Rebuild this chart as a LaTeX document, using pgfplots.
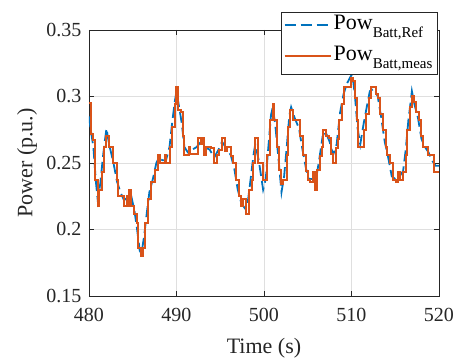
\documentclass[border=0pt]{standalone}
\usepackage{pgfplots}
\pgfplotsset{compat=1.18}
\usepackage{fontspec}
\setmainfont{Liberation Serif}
\definecolor{mblue}{RGB}{0,114,189}
\definecolor{morange}{RGB}{217,83,25}
\definecolor{axgray}{RGB}{38,38,38}
\newcommand{\sub}[1]{\raisebox{-7.5pt}{\fontsize{15}{15}\selectfont #1}}
\pgfplotstableread{
t v
480.0 0.295
480.2 0.272
480.5 0.267
480.7 0.237
481.0 0.218
481.2 0.230
481.5 0.243
481.7 0.262
482.0 0.270
482.3 0.262
482.8 0.250
483.2 0.237
483.3 0.225
483.7 0.225
484.0 0.218
484.3 0.225
484.4 0.218
484.6 0.230
484.8 0.218
485.2 0.212
485.5 0.205
485.6 0.186
486.0 0.180
486.2 0.186
486.4 0.205
486.8 0.223
487.1 0.236
487.5 0.237
487.6 0.245
487.9 0.256
488.1 0.250
488.5 0.250
488.7 0.256
488.8 0.250
489.1 0.250
489.3 0.262
489.5 0.277
489.8 0.294
490.0 0.307
490.2 0.290
490.5 0.288
490.7 0.270
490.9 0.256
491.2 0.256
491.4 0.262
491.6 0.257
492.3 0.257
492.5 0.269
492.8 0.264
493.0 0.269
493.2 0.256
493.4 0.262
493.9 0.261
494.3 0.250
494.6 0.256
494.9 0.260
495.2 0.269
495.5 0.259
495.8 0.262
496.2 0.255
496.5 0.250
496.8 0.237
497.1 0.225
497.4 0.218
497.6 0.223
498.0 0.212
498.3 0.230
498.6 0.237
498.7 0.250
499.0 0.269
499.3 0.250
499.5 0.250
499.9 0.237
500.1 0.237
500.4 0.256
500.7 0.282
501.0 0.294
501.2 0.282
501.5 0.262
501.7 0.245
502.0 0.234
502.2 0.237
502.6 0.256
502.8 0.277
503.0 0.290
503.3 0.282
503.9 0.282
504.1 0.270
504.5 0.256
504.8 0.244
505.0 0.237
505.3 0.236
505.6 0.243
505.8 0.230
506.1 0.245
506.4 0.255
506.6 0.262
506.8 0.275
507.1 0.270
507.4 0.269
507.7 0.257
507.9 0.250
508.2 0.261
508.5 0.268
508.6 0.282
508.9 0.294
509.2 0.307
509.5 0.307
509.9 0.314
510.2 0.312
510.4 0.299
510.6 0.282
510.8 0.262
511.1 0.262
511.4 0.275
511.7 0.287
512.0 0.299
512.2 0.307
512.6 0.307
512.8 0.302
513.0 0.299
513.3 0.287
513.6 0.275
513.9 0.262
514.1 0.256
514.4 0.250
514.7 0.237
515.1 0.236
515.3 0.243
515.6 0.237
515.9 0.243
516.2 0.256
516.4 0.275
516.7 0.292
516.9 0.300
517.1 0.296
517.4 0.288
517.7 0.282
518.0 0.270
518.2 0.262
518.5 0.262
518.7 0.256
519.0 0.256
519.4 0.243
520.0 0.243
}\meas
\pgfplotstableread{
t v
480.0 0.285
480.2 0.275
480.5 0.262
480.8 0.235
481.0 0.222
481.3 0.235
481.6 0.255
481.8 0.266
482.0 0.276
482.3 0.264
482.8 0.250
483.2 0.236
483.6 0.228
484.0 0.222
484.4 0.224
484.8 0.226
485.2 0.214
485.5 0.200
485.8 0.184
486.0 0.182
486.3 0.195
486.6 0.212
486.9 0.228
487.3 0.238
487.7 0.250
488.0 0.254
488.4 0.252
488.8 0.252
489.2 0.262
489.5 0.280
489.8 0.296
490.0 0.304
490.3 0.292
490.6 0.280
490.9 0.262
491.3 0.258
491.8 0.260
492.3 0.262
492.8 0.266
493.2 0.262
493.8 0.260
494.3 0.254
494.8 0.260
495.2 0.266
495.6 0.262
496.2 0.256
496.6 0.246
497.0 0.230
497.4 0.220
497.8 0.216
498.1 0.218
498.4 0.234
498.8 0.256
499.0 0.264
499.4 0.252
499.9 0.230
500.2 0.238
500.5 0.262
500.8 0.286
501.0 0.292
501.3 0.278
501.7 0.250
502.0 0.228
502.3 0.240
502.6 0.262
502.9 0.286
503.1 0.292
503.5 0.284
504.0 0.276
504.4 0.260
504.8 0.246
505.1 0.238
505.5 0.238
505.9 0.236
506.3 0.252
506.7 0.270
507.0 0.274
507.5 0.266
507.9 0.256
508.3 0.264
508.7 0.288
509.1 0.302
509.5 0.310
509.9 0.315
510.1 0.317
510.4 0.300
510.7 0.276
511.0 0.264
511.4 0.280
511.8 0.294
512.1 0.304
512.6 0.306
513.0 0.300
513.4 0.284
513.8 0.266
514.2 0.254
514.6 0.240
515.0 0.238
515.5 0.240
515.9 0.244
516.2 0.260
516.5 0.282
516.8 0.298
516.9 0.304
517.2 0.294
517.6 0.284
518.0 0.268
518.4 0.262
518.8 0.258
519.2 0.252
519.6 0.248
520.0 0.248
}\refdata
\begin{document}
\begin{tikzpicture}
\begin{axis}[
  name=ax,
  scale only axis,
  width=350pt, height=266pt,
  xmin=480, xmax=520, ymin=0.15, ymax=0.35,
  xtick={480,490,...,520},
  ytick={0.15,0.2,0.25,0.3,0.35},
  yticklabels={0.15,0.2,0.25,0.3,0.35},
  xticklabels={480,490,500,510,520},
  tick align=inside, tick pos=both,
  major tick length=5pt,
  axis line style={axgray, line width=0.6pt},
  every tick/.style={axgray, line width=0.6pt},
  grid=major,
  major grid style={gray!25, line width=0.6pt},
  tick label style={font=\fontsize{20}{24}\selectfont, text=axgray},
  xticklabel style={yshift=-9pt},
  yticklabel style={xshift=-4pt},
  xlabel={Time (s)}, ylabel={Power (p.u.)},
  label style={font=\fontsize{22}{26}\selectfont, text=axgray},
  xlabel style={at={(axis description cs:0.5,-0.195)}, anchor=center},
  ylabel style={at={(axis description cs:-0.177,0.5)}, anchor=center},
  legend style={at={(rel axis cs:0.996,1.066)}, anchor=north east,
    draw=axgray, fill=white,
    font=\fontsize{22}{24}\selectfont,
    inner xsep=3pt, inner ysep=1pt, row sep=2pt,
    nodes={inner ysep=1pt, text height=15pt, text depth=12pt}},
  legend cell align=left,
  legend image code/.code={\draw[#1] (0pt,0pt) -- (46pt,0pt);},
]
\addplot[mblue, line width=1.8pt, dash pattern=on 11pt off 5pt,
  legend image post style={mblue, line width=1.8pt, dash pattern=on 11pt off 5pt, yshift=3pt}] table[x=t,y=v] {\refdata};
\addlegendentry{Pow\sub{Batt,Ref}}
\addplot[morange, line width=2pt, const plot,
  legend image post style={morange, line width=2pt, solid, yshift=3pt}] table[x=t,y=v] {\meas};
\addlegendentry{Pow\sub{Batt,meas}}
\end{axis}
\pgfresetboundingbox
\path ([xshift=-89pt,yshift=-66pt]ax.south west) rectangle ([xshift=20pt,yshift=30pt]ax.north east);
\end{tikzpicture}
\end{document}
